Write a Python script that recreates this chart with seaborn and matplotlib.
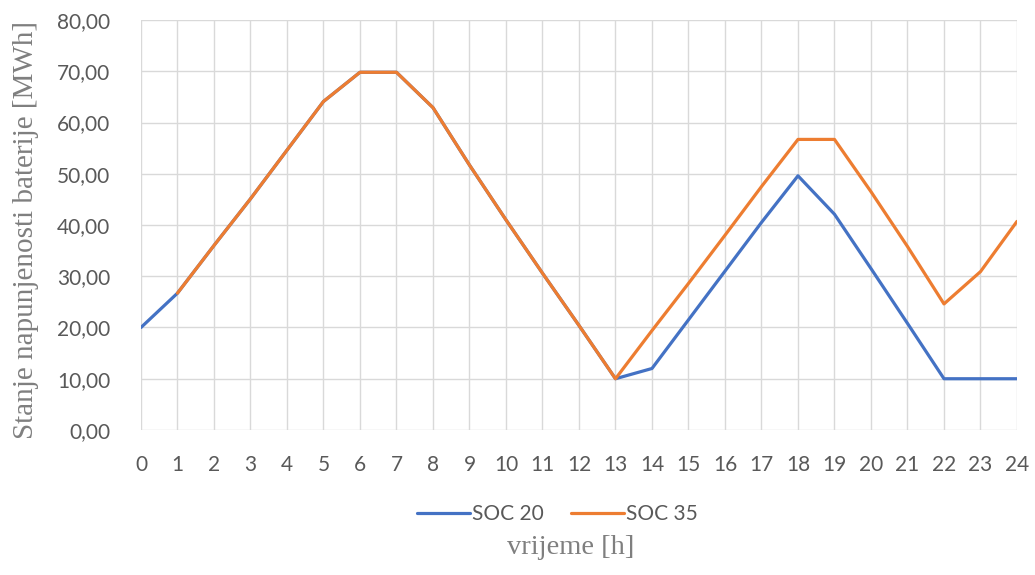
import pandas as pd
import numpy as np
import seaborn as sns
import matplotlib.pyplot as plt
from matplotlib.ticker import FuncFormatter

# Data
hours = list(range(25))
soc_20 = [20.0, 26.7, 36.0, 45.1, 54.6, 64.1, 69.8, 69.8, 62.9, 51.7, 41.0, 30.6, 20.4,
          10.0, 12.0, 21.5, 31.0, 40.5, 49.6, 42.1, 31.5, 20.8, 10.0, 10.0, 10.0]
soc_35 = [np.nan, 26.7, 36.0, 45.1, 54.6, 64.1, 69.8, 69.8, 62.9, 51.7, 41.0, 30.6, 20.4,
          10.0, 19.4, 28.6, 38.0, 47.5, 56.7, 56.7, 46.5, 35.8, 24.6, 30.9, 40.7]
series_names = ["SOC 20", "SOC 35"]
colors = ["#4472C4", "#ED7D31"]

df = pd.DataFrame({
    "hour": hours * 2,
    "value": soc_20 + soc_35,
    "series": [series_names[0]] * len(hours) + [series_names[1]] * len(hours),
})

sns.set_theme(style="white")
plt.rcParams["font.family"] = ["Lato", "DejaVu Sans"]

fig = plt.figure(figsize=(10.35, 5.75), dpi=100)
ax = fig.add_axes([0.1362, 0.2522, 0.8464, 0.713])

sns.lineplot(data=df, x="hour", y="value", hue="series", palette=colors,
             linewidth=2.3, ax=ax, legend=True)

ax.set_xlim(0, 24)
ax.set_ylim(0, 80)
ax.set_xticks(hours)
ax.set_yticks(range(0, 81, 10))
ax.yaxis.set_major_formatter(FuncFormatter(lambda v, p: f"{v:.2f}".replace(".", ",")))
ax.grid(True, color="#d9d9d9", linewidth=1.0)
ax.set_axisbelow(True)
for s in ax.spines.values():
    s.set_visible(False)
ax.tick_params(axis="both", colors="#595959", labelsize=15, length=0)
ax.tick_params(axis="x", pad=18)
ax.tick_params(axis="y", pad=22)

ax.set_xlabel("vrijeme [h]", family="Liberation Serif", fontsize=20.5, color="#7f7f7f")
ax.xaxis.set_label_coords(0.49, -0.255)
ax.set_ylabel("Stanje napunjenosti baterije [MWh]", family="Liberation Serif",
              fontsize=21, color="#7f7f7f")
ax.yaxis.set_label_coords(-0.116, 0.488)

leg = ax.legend(loc="center", bbox_to_anchor=(0.475, -0.205), ncol=2, frameon=False,
                fontsize=15, handlelength=2.55, handletextpad=0.1, columnspacing=1.3)
for t in leg.get_texts():
    t.set_color("#595959")

fig.savefig("out.png", dpi=100)
